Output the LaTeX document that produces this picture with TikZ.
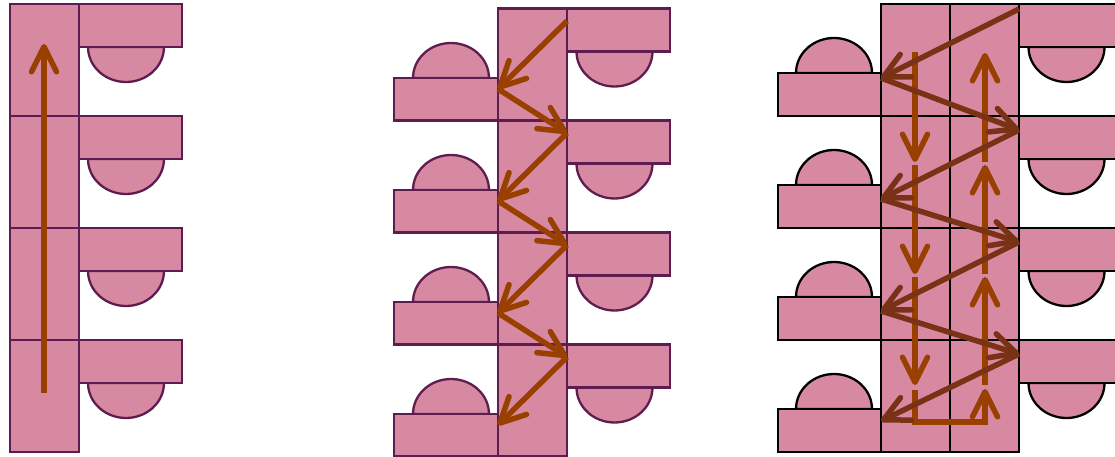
\documentclass[tikz,border=0pt]{standalone}
\usetikzlibrary{arrows.meta}
\definecolor{cellpink}{RGB}{214,137,160}
\definecolor{edgepurple}{RGB}{94,28,80}
\definecolor{arrowbrown}{RGB}{153,64,0}
\definecolor{zigbrown}{RGB}{122,50,22}
\begin{document}
\begin{tikzpicture}[x=1pt,y=-1pt,
  cellbox/.style={fill=cellpink,draw=edgepurple,line width=2.3pt},
  cellboxk/.style={fill=cellpink,draw=black,line width=2.3pt},
  flow/.style={draw=arrowbrown,line width=5.5pt,-{Straight Barb[length=25pt,width=25pt,round]}},
  zflow/.style={draw=zigbrown,line width=5.5pt,-{Straight Barb[length=25pt,width=25pt,round]}}
]
\useasboundingbox (0,0) rectangle (1115,457);
% ---------- left diagram ----------
\foreach \k in {0,...,3} {
  \pgfmathsetmacro\t{4+112*\k}
  \draw[cellbox] (10,\t) rectangle (79,\t+112);
  \draw[cellbox] (88,\t+43) arc[start angle=180,end angle=0,x radius=38,y radius=35] -- cycle;
  \draw[cellbox] (79,\t) rectangle (182,\t+43);
}
\coordinate (aS) at (44,393);
\coordinate (aE) at (44,44);
\draw[flow] (aS) -- (aE);
% ---------- middle diagram ----------
\foreach \k in {0,...,3} {
  \pgfmathsetmacro\t{8.5+112*\k}
  \draw[cellbox] (498,\t) rectangle (567,\t+112);
  \draw[cellbox] (576.5,\t+43) arc[start angle=180,end angle=0,x radius=38,y radius=35] -- cycle;
  \draw[cellbox] (567,\t) rectangle (670,\t+43);
  \draw[cellbox] (413,\t+69.5) arc[start angle=180,end angle=360,x radius=38,y radius=35] -- cycle;
  \draw[cellbox] (394,\t+69.5) rectangle (498,\t+112);
}
\foreach \k in {0,...,3} {
  \coordinate (mR\k) at (567,21+112*\k);
  \coordinate (mL\k) at (498,89+112*\k);
}
\foreach \k in {0,...,3} { \draw[flow] (mR\k) -- (mL\k); }
\foreach \k/\n in {0/1,1/2,2/3} { \draw[flow] (mL\k) -- (mR\n); }
% ---------- right diagram ----------
\foreach \k in {0,...,3} {
  \pgfmathsetmacro\t{4+112*\k}
  \draw[cellboxk] (881,\t) rectangle (950,\t+112);
  \draw[cellboxk] (950,\t) rectangle (1019,\t+112);
  \draw[cellboxk] (1028.5,\t+43) arc[start angle=180,end angle=0,x radius=38,y radius=35] -- cycle;
  \draw[cellboxk] (1019,\t) rectangle (1125,\t+43);
  \draw[cellboxk] (796,\t+69) arc[start angle=180,end angle=360,x radius=38,y radius=35] -- cycle;
  \draw[cellboxk] (778,\t+69) rectangle (881,\t+112);
}
% vertical arrows
\coordinate (v1a) at (915,52);  \coordinate (v1b) at (915,162);
\coordinate (v2a) at (915,165); \coordinate (v2b) at (915,274);
\coordinate (v3a) at (915,277); \coordinate (v3b) at (915,385);
\coordinate (u1) at (915,390);  \coordinate (u2) at (915,422);
\coordinate (u3) at (985,422);  \coordinate (u4) at (985,389);
\coordinate (w1a) at (985,385); \coordinate (w1b) at (985,277);
\coordinate (w2a) at (985,274); \coordinate (w2b) at (985,165);
\coordinate (w3a) at (985,162); \coordinate (w3b) at (985,53);
\draw[flow] (v1a) -- (v1b);
\draw[flow] (v2a) -- (v2b);
\draw[flow] (v3a) -- (v3b);
\draw[flow] (u1) -- (u2) -- (u3) -- (u4);
\draw[flow] (w1a) -- (w1b);
\draw[flow] (w2a) -- (w2b);
\draw[flow] (w3a) -- (w3b);
% zigzag
\coordinate (rR0) at (1019,9);   \coordinate (rL0) at (881,78);
\coordinate (rR1) at (1019,130); \coordinate (rL1) at (881,199);
\coordinate (rR2) at (1019,242); \coordinate (rL2) at (881,311);
\coordinate (rR3) at (1019,354); \coordinate (rL3) at (881,421);
\foreach \k in {0,...,3} { \draw[zflow] (rR\k) -- (rL\k); }
\foreach \k/\n in {0/1,1/2,2/3} { \draw[zflow] (rL\k) -- (rR\n); }
\end{tikzpicture}
\end{document}
